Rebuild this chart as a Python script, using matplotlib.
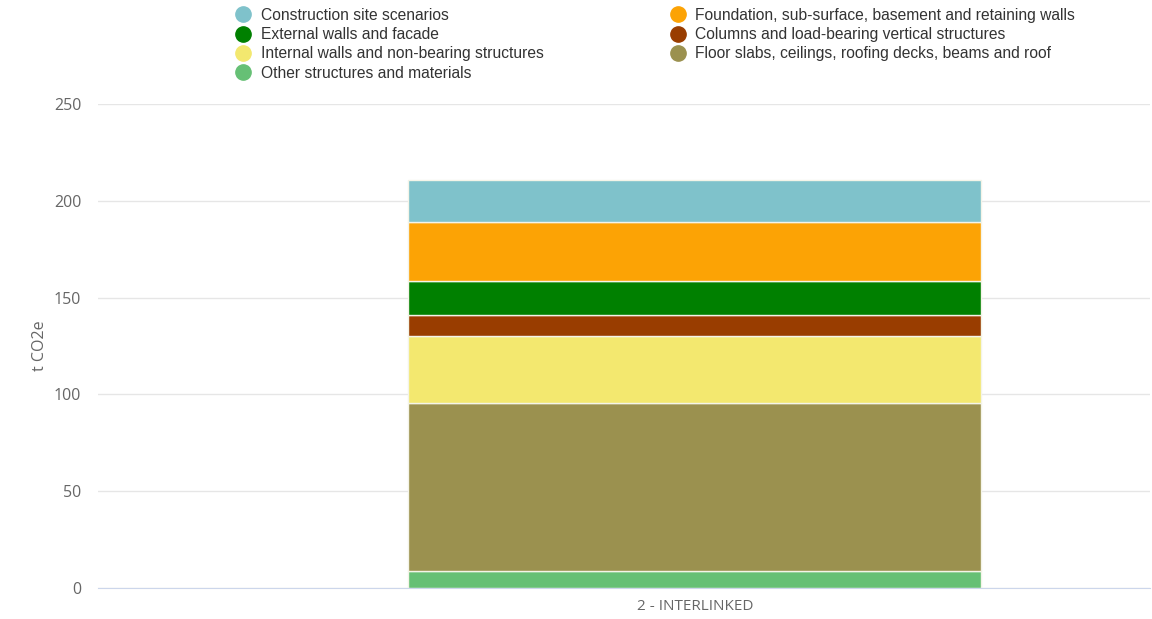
import matplotlib.pyplot as plt
from matplotlib.lines import Line2D

plt.rcParams['font.family'] = ['Liberation Sans', 'DejaVu Sans']

category = "2 - INTERLINKED"
# stacked bottom -> top
names = ["Other structures and materials",
         "Floor slabs, ceilings, roofing decks, beams and roof",
         "Internal walls and non-bearing structures",
         "Columns and load-bearing vertical structures",
         "External walls and facade",
         "Foundation, sub-surface, basement and retaining walls",
         "Construction site scenarios"]
values = [8.8, 86.9, 34.6, 10.7, 17.6, 30.3, 21.8]
colors = ["#66c075", "#9b914f", "#f3e86f", "#993d00", "#008000", "#fca305", "#7fc2cb"]
legend_order = [6, 4, 2, 0, 5, 3, 1]
yticks = [0, 50, 100, 150, 200, 250]

fig = plt.figure(figsize=(11.52, 6.19), dpi=100)
ax = fig.add_axes([0.085, 0.050, 0.913, 0.782])

bottom = 0
for v, c in zip(values, colors):
    ax.bar(0, v, width=1.0, bottom=bottom, color=c, edgecolor="#f4f4e8", linewidth=1.0, zorder=3)
    bottom += v

ax.set_xlim(-1.042, 0.794)
ax.set_ylim(0, 250)
ax.set_yticks(yticks)
ax.set_xticks([0])
ax.set_xticklabels([category])
ax.grid(axis="y", color="#e6e6e6", linewidth=1, zorder=0)
for s in ["left", "right", "top"]:
    ax.spines[s].set_visible(False)
ax.spines["bottom"].set_color("#ccd6eb")
ax.spines["bottom"].set_zorder(4)
ax.tick_params(axis="y", length=0, pad=12, labelsize=11.5, labelcolor="#666666")
ax.tick_params(axis="x", length=0, pad=8, labelsize=11, labelcolor="#666666")
for lbl in ax.get_yticklabels() + ax.get_xticklabels():
    lbl.set_family(["Open Sans", "DejaVu Sans"])
ax.set_ylabel("t CO2e", color="#666666", fontsize=11.5, family=["Open Sans", "DejaVu Sans"], labelpad=4)

handles = [Line2D([], [], marker="o", linestyle="", markersize=11, color=colors[i]) for i in legend_order]
labels = [names[i] for i in legend_order]
fig.legend(handles, labels, ncol=2, loc="upper left", bbox_to_anchor=(0.191, 1.01),
           frameon=False, fontsize=11.28, labelcolor="#333333", handletextpad=0.55,
           columnspacing=7.94, labelspacing=0.27, handlelength=1.17)

plt.savefig("out.png", dpi=100)
